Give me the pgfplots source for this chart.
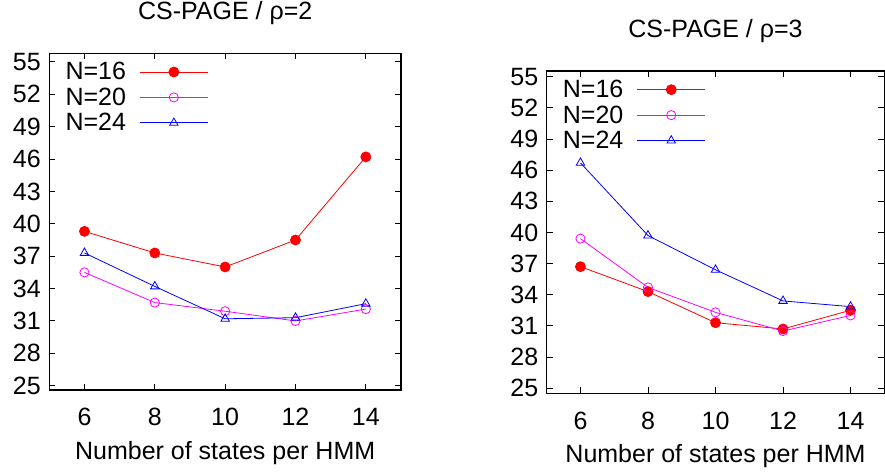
\documentclass[border=0pt]{standalone}
\usepackage{fontspec}
\setmainfont{Liberation Sans}
\usepackage{pgfplots}
\pgfplotsset{compat=1.18}
\definecolor{gpred}{RGB}{255,0,0}
\definecolor{gpmag}{RGB}{255,0,255}
\definecolor{gpblue}{RGB}{0,0,255}
\pgfplotsset{
  gp/.style={
    scale only axis,
    xmin=5, xmax=15,
    xtick={6,8,10,12,14},
    ytick={25,28,...,55},
    tick align=inside,
    major tick length=6pt,
    /pgf/number format/assume math mode=true,
    font=\fontsize{25}{29}\selectfont,
    tick label style={font=\fontsize{25}{29}\selectfont},
    xticklabel style={yshift=-15pt},
    yticklabel style={xshift=-5pt},
    axis line style={line width=1.4pt},
    every tick/.style={black, line width=0.9pt},
    title style={at={(0.5,1)}, anchor=base, yshift=28pt, font=\fontsize{25}{29}\selectfont},
    xlabel style={at={(0.5,0)}, anchor=base, yshift=-69pt, font=\fontsize{25}{29}\selectfont},
    xlabel={Number of states per HMM},
    legend plot pos=right,
    legend cell align=left,
    legend style={at={(0,1)}, anchor=north west, draw=none, fill=none,
      xshift=13pt, yshift=-6pt, font=\fontsize{25}{29}\selectfont,
      inner sep=0pt, nodes={inner sep=3pt}, row sep=0.5pt, column sep=10.5pt},
    legend image code/.code={\draw[#1, mark repeat=2, mark phase=2] plot coordinates {(0pt,0pt)(34pt,0pt)(68pt,0pt)};},
  },
  s16/.style={gpred, line width=0.8pt, mark=*, mark size=5pt, mark options={solid, fill=gpred}},
  s20/.style={gpmag, line width=0.8pt, mark=o, mark size=4.6pt, mark options={solid}},
  s24/.style={gpblue, line width=0.8pt, mark=triangle, mark size=4.9pt, mark options={solid}},
}
\begin{document}
\begin{tikzpicture}
\useasboundingbox (0,0) rectangle (885pt,472pt);
\begin{axis}[gp, at={(49.3pt,82pt)}, anchor=south west,
  width=351.7pt, height=336.7pt, ymin=24.6, ymax=55.8,
  title={CS-PAGE / ρ=2}]
\addplot[s16] coordinates {(6,39.3)(8,37.3)(10,36.0)(12,38.5)(14,46.2)};
\addplot[s20] coordinates {(6,35.5)(8,32.7)(10,31.9)(12,31.0)(14,32.1)};
\addplot[s24] coordinates {(6,37.3)(8,34.2)(10,31.2)(12,31.3)(14,32.6)};
\legend{N=16,N=20,N=24}
\end{axis}
\begin{axis}[gp, at={(546.7pt,78.7pt)}, anchor=south west,
  width=337.6pt, height=322.3pt, ymin=24.5, ymax=55.55,
  title={CS-PAGE / ρ=3}]
\addplot[s16] coordinates {(6,36.7)(8,34.3)(10,31.3)(12,30.7)(14,32.5)};
\addplot[s20] coordinates {(6,39.4)(8,34.7)(10,32.3)(12,30.5)(14,32.0)};
\addplot[s24] coordinates {(6,46.7)(8,39.7)(10,36.4)(12,33.4)(14,32.85)};
\legend{N=16,N=20,N=24}
\end{axis}
\end{tikzpicture}
\end{document}
